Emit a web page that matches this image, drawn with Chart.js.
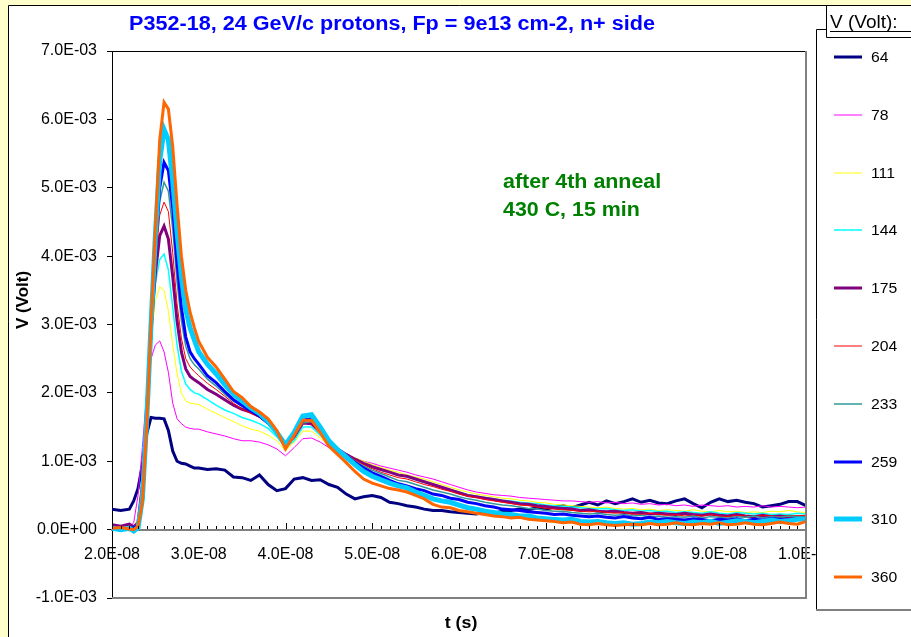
<!DOCTYPE html>
<html>
<head>
<meta charset="utf-8">
<script src="https://cdn.jsdelivr.net/npm/chart.js@4.4.1/dist/chart.umd.min.js"></script>
<style>
html,body{margin:0;padding:0;background:#ffffcc;overflow:hidden}
canvas{display:block}
</style>
</head>
<body>
<canvas id="c" width="911" height="637"></canvas>
<script>
// time in ns, signal in mV (converted to s / V when plotted)
const times = [20,21,22,22.5,23,23.5,24,24.5,25,25.5,26,26.5,27,27.5,28,28.5,29,29.5,30,
  31,32,33,34,35,36,37,38,39,40,41,42,43,44,45,46,47,48,49,50,
  51,52,53,54,55,56,57,58,59,60,61,62,63,64,65,66,67,68,69,70,
  71,72,73,74,75,76,77,78,79,80,81,82,83,84,85,86,87,88,89,90,
  91,92,93,94,95,96,97,98,99,100];

const biasVolts = ['64','78','111','144','175','204','233','259','310','360'];

const v64 = [0.30,0.28,0.30,0.42,0.60,0.95,1.40,1.64,1.63,1.63,1.62,1.45,1.15,1.00,0.97,0.96,0.93,0.90,0.90,
  0.88,0.89,0.87,0.77,0.76,0.72,0.80,0.66,0.57,0.60,0.74,0.76,0.72,0.73,0.66,0.62,0.52,0.45,0.48,0.50,
  0.47,0.40,0.38,0.35,0.33,0.30,0.28,0.28,0.26,0.25,0.24,0.23,0.26,0.24,0.27,0.28,0.30,0.29,0.32,0.30,
  0.33,0.35,0.32,0.36,0.40,0.36,0.42,0.38,0.41,0.45,0.40,0.43,0.39,0.38,0.42,0.45,0.38,0.32,0.40,0.45,
  0.41,0.43,0.40,0.38,0.33,0.35,0.37,0.41,0.41,0.35];
const v78 = [0.03,0.01,0.04,0.10,0.50,1.20,2.00,2.50,2.70,2.76,2.60,2.30,1.85,1.62,1.55,1.50,1.48,1.47,1.47,
  1.43,1.40,1.37,1.33,1.30,1.30,1.28,1.24,1.18,1.08,1.20,1.33,1.34,1.28,1.20,1.14,1.10,1.05,1.00,0.97,
  0.93,0.90,0.87,0.84,0.80,0.77,0.74,0.70,0.66,0.62,0.58,0.55,0.53,0.51,0.50,0.49,0.47,0.46,0.45,0.44,
  0.43,0.42,0.42,0.41,0.40,0.41,0.39,0.40,0.38,0.39,0.37,0.38,0.36,0.37,0.35,0.36,0.34,0.36,0.35,0.34,
  0.35,0.33,0.34,0.33,0.35,0.33,0.34,0.33,0.32,0.33];
const v111 = [0.04,0.02,0.04,0.05,0.15,0.80,1.85,2.80,3.35,3.55,3.50,3.20,2.70,2.28,2.00,1.88,1.85,1.84,1.83,
  1.76,1.70,1.64,1.58,1.52,1.47,1.44,1.38,1.30,1.15,1.28,1.44,1.44,1.34,1.24,1.16,1.10,1.05,1.00,0.95,
  0.91,0.87,0.84,0.80,0.77,0.74,0.70,0.66,0.62,0.58,0.55,0.52,0.50,0.48,0.46,0.45,0.43,0.42,0.40,0.39,
  0.37,0.36,0.35,0.34,0.33,0.32,0.33,0.31,0.30,0.31,0.29,0.30,0.28,0.29,0.28,0.27,0.29,0.27,0.26,0.28,
  0.26,0.27,0.25,0.26,0.25,0.27,0.26,0.28,0.26,0.25];
const v144 = [0.02,0.04,0.02,0.03,0.10,0.70,1.80,2.85,3.60,3.95,4.03,3.80,3.25,2.70,2.32,2.13,2.05,2.00,1.98,
  1.90,1.82,1.75,1.70,1.64,1.60,1.55,1.48,1.36,1.20,1.30,1.50,1.50,1.38,1.26,1.16,1.10,1.03,0.97,0.92,
  0.87,0.84,0.80,0.77,0.73,0.69,0.66,0.62,0.58,0.55,0.51,0.49,0.47,0.45,0.43,0.42,0.40,0.39,0.38,0.36,
  0.35,0.34,0.33,0.32,0.31,0.30,0.31,0.29,0.28,0.29,0.27,0.28,0.26,0.27,0.25,0.26,0.25,0.24,0.26,0.24,
  0.23,0.25,0.24,0.23,0.24,0.22,0.23,0.22,0.24,0.23];
const v175 = [0.07,0.05,0.08,0.04,0.10,0.65,1.75,2.90,3.75,4.30,4.44,4.25,3.70,3.05,2.60,2.35,2.24,2.19,2.15,
  2.05,1.98,1.90,1.82,1.76,1.72,1.66,1.56,1.42,1.22,1.36,1.56,1.55,1.43,1.28,1.18,1.10,1.03,0.97,0.92,
  0.88,0.84,0.80,0.78,0.74,0.70,0.66,0.62,0.58,0.54,0.50,0.48,0.46,0.44,0.42,0.40,0.38,0.37,0.35,0.34,
  0.32,0.31,0.30,0.28,0.29,0.27,0.26,0.27,0.25,0.24,0.25,0.23,0.24,0.23,0.22,0.24,0.22,0.21,0.23,0.21,
  0.20,0.22,0.20,0.19,0.21,0.19,0.20,0.18,0.19,0.18];
const v204 = [0.03,0.01,0.03,0.02,0.08,0.60,1.70,2.90,3.90,4.60,4.79,4.65,4.05,3.30,2.80,2.50,2.38,2.31,2.25,
  2.14,2.05,1.95,1.85,1.76,1.70,1.64,1.55,1.42,1.20,1.35,1.56,1.57,1.45,1.29,1.18,1.10,1.02,0.95,0.89,
  0.84,0.80,0.76,0.74,0.70,0.66,0.63,0.59,0.56,0.52,0.49,0.47,0.44,0.42,0.40,0.38,0.36,0.35,0.33,0.31,
  0.30,0.29,0.28,0.27,0.26,0.27,0.25,0.24,0.25,0.23,0.22,0.24,0.22,0.21,0.22,0.20,0.21,0.20,0.22,0.20,
  0.19,0.21,0.20,0.19,0.21,0.20,0.19,0.21,0.20,0.21];
const v233 = [0.01,0.03,0.01,0.04,0.08,0.55,1.65,2.90,4.00,4.80,5.08,4.95,4.40,3.62,3.05,2.68,2.50,2.41,2.35,
  2.20,2.10,1.98,1.88,1.80,1.74,1.66,1.56,1.44,1.22,1.36,1.56,1.58,1.45,1.28,1.17,1.10,1.00,0.93,0.87,
  0.82,0.77,0.72,0.70,0.66,0.62,0.58,0.55,0.52,0.48,0.45,0.43,0.40,0.38,0.36,0.35,0.33,0.31,0.30,0.28,
  0.27,0.27,0.25,0.24,0.23,0.24,0.22,0.21,0.22,0.20,0.21,0.19,0.20,0.18,0.19,0.18,0.20,0.17,0.19,0.18,
  0.17,0.19,0.18,0.20,0.17,0.19,0.18,0.20,0.19,0.18];
const v259 = [0.00,0.02,0.00,0.03,0.06,0.50,1.60,2.90,4.10,5.00,5.37,5.25,4.70,3.90,3.25,2.82,2.60,2.50,2.42,
  2.25,2.15,2.02,1.90,1.82,1.74,1.66,1.56,1.42,1.22,1.38,1.60,1.62,1.46,1.28,1.16,1.08,0.98,0.90,0.83,
  0.78,0.72,0.67,0.64,0.60,0.57,0.52,0.50,0.46,0.44,0.40,0.38,0.35,0.33,0.30,0.29,0.28,0.26,0.25,0.24,
  0.22,0.23,0.21,0.20,0.19,0.20,0.18,0.17,0.19,0.17,0.16,0.18,0.15,0.16,0.15,0.14,0.16,0.15,0.13,0.15,
  0.14,0.16,0.13,0.15,0.14,0.16,0.15,0.14,0.16,0.15];
const v310 = [0.02,0.00,0.02,-0.02,0.03,0.45,1.60,3.00,4.30,5.40,5.85,5.70,5.10,4.35,3.70,3.22,2.95,2.77,2.60,
  2.42,2.28,2.12,1.98,1.88,1.78,1.70,1.58,1.42,1.24,1.42,1.66,1.68,1.50,1.30,1.17,1.06,0.95,0.85,0.78,
  0.73,0.68,0.64,0.61,0.55,0.50,0.45,0.42,0.40,0.36,0.32,0.30,0.27,0.25,0.23,0.22,0.20,0.20,0.17,0.16,
  0.15,0.14,0.15,0.12,0.11,0.12,0.10,0.09,0.10,0.08,0.09,0.11,0.10,0.12,0.10,0.09,0.11,0.10,0.12,0.09,
  0.11,0.13,0.12,0.10,0.12,0.14,0.12,0.13,0.15,0.16];
const v360 = [0.02,0.03,0.01,0.00,0.05,0.40,1.50,3.00,4.40,5.70,6.25,6.15,5.60,4.75,4.00,3.50,3.18,2.95,2.75,
  2.52,2.38,2.20,2.02,1.93,1.80,1.72,1.62,1.45,1.18,1.38,1.60,1.60,1.42,1.22,1.10,0.98,0.85,0.74,0.68,
  0.64,0.60,0.58,0.55,0.50,0.45,0.37,0.33,0.32,0.28,0.26,0.24,0.22,0.20,0.19,0.17,0.18,0.15,0.14,0.13,
  0.12,0.10,0.11,0.08,0.07,0.09,0.07,0.06,0.07,0.08,0.07,0.09,0.07,0.08,0.10,0.08,0.07,0.09,0.08,0.10,
  0.07,0.08,0.10,0.08,0.07,0.09,0.11,0.09,0.08,0.12];

const series = [v64, v78, v111, v144, v175, v204, v233, v259, v310, v360];
const colors = ['#000080','#ff00ff','#ffff00','#00ffff','#800080','#ff0000','#339999','#0000ff','#00ccff','#ff6600'];
const widths = [3, 1, 1, 1.5, 3, 1, 1.5, 3, 5, 3];

const FONT = "'Liberation Sans', Arial, sans-serif";

function fmtE(v){
  if (Math.abs(v) < 1e-15) return '0.0E+00';
  let e = Math.floor(Math.log10(Math.abs(v)));
  let m = v / Math.pow(10, e);
  if (Math.abs(m) >= 9.95) { m /= 10; e++; }
  return m.toFixed(1) + 'E' + (e < 0 ? '-' : '+') + String(Math.abs(e)).padStart(2, '0');
}

function txt(ctx, s, x, y, font, color, align, sx){
  ctx.save();
  ctx.translate(x, y);
  ctx.scale(sx || 1, 1);
  ctx.font = font; ctx.fillStyle = color;
  ctx.textAlign = align || 'left'; ctx.textBaseline = 'alphabetic';
  ctx.fillText(s, 0, 0);
  ctx.restore();
}

const datasets = series.map((vals, i) => ({
  label: biasVolts[i],
  data: vals.map((v, k) => ({ x: times[k] * 1e-9, y: v * 1e-3 })),
  borderColor: colors[i],
  backgroundColor: colors[i],
  borderWidth: widths[i],
  pointRadius: 0,
  tension: 0,
  fill: false,
  order: series.length - i
}));

const decor = {
  id: 'decor',
  beforeDraw(chart){
    const ctx = chart.ctx;
    ctx.save();
    ctx.fillStyle = '#fff';
    ctx.fillRect(8, 5, 903, 632);
    ctx.strokeStyle = '#000'; ctx.lineWidth = 1;
    ctx.beginPath(); ctx.moveTo(8.5, 637); ctx.lineTo(8.5, 5.5); ctx.lineTo(911, 5.5); ctx.stroke();
    ctx.restore();
  },
  afterDatasetsDraw(chart){
    const ctx = chart.ctx, a = chart.chartArea;
    const xs = chart.scales.x, ys = chart.scales.y;
    ctx.save();
    // x axis tick marks (pointing up), minor every 1 ns
    const y0 = Math.round(ys.getPixelForValue(0)) - 1;
    ctx.strokeStyle = '#000'; ctx.lineWidth = 1;
    ctx.beginPath();
    for (let k = 20; k <= 100; k++) {
      const x = Math.round(xs.getPixelForValue(k * 1e-9)) + 0.5;
      const len = k % 10 === 0 ? 6 : 3;
      ctx.moveTo(x, y0); ctx.lineTo(x, y0 - len);
    }
    ctx.stroke();
    // plot area frame
    ctx.strokeStyle = '#000'; ctx.lineWidth = 1;
    ctx.beginPath(); ctx.moveTo(a.left, a.top + 0.5); ctx.lineTo(a.right, a.top + 0.5); ctx.stroke();
    ctx.strokeStyle = '#808080'; ctx.lineWidth = 2;
    ctx.beginPath(); ctx.moveTo(a.right, a.top); ctx.lineTo(a.right, a.bottom); ctx.lineTo(a.left, a.bottom); ctx.stroke();
    ctx.restore();
  },
  afterDraw(chart){
    const ctx = chart.ctx;
    ctx.save();
    txt(ctx, 'P352-18, 24 GeV/c protons, Fp = 9e13 cm-2, n+ side', 392, 30, 'bold 20px ' + FONT, '#0000ff', 'center', 1.08);
    txt(ctx, 'after 4th anneal', 503, 188, 'bold 20px ' + FONT, '#008000', 'left', 1.07);
    txt(ctx, '430 C, 15 min', 503, 216, 'bold 20px ' + FONT, '#008000', 'left', 1.07);
    txt(ctx, 't (s)', 461, 628, 'bold 17px ' + FONT, '#000', 'center', 1.05);
    ctx.save();
    ctx.translate(28, 300); ctx.rotate(-Math.PI / 2);
    txt(ctx, 'V (Volt)', 0, 0, 'bold 17px ' + FONT, '#000', 'center', 1.0);
    ctx.restore();

    // legend box
    ctx.fillStyle = '#fff';
    ctx.fillRect(816, 29, 95, 581);
    ctx.strokeStyle = '#000'; ctx.lineWidth = 1;
    ctx.beginPath(); ctx.moveTo(911, 29.5); ctx.lineTo(816.5, 29.5); ctx.lineTo(816.5, 610); ctx.stroke();
    ctx.strokeStyle = '#808080'; ctx.lineWidth = 2;
    ctx.beginPath(); ctx.moveTo(816, 610); ctx.lineTo(911, 610); ctx.stroke();
    // legend title box
    ctx.fillStyle = '#fff';
    ctx.fillRect(826, 6, 85, 31);
    ctx.strokeStyle = '#000'; ctx.lineWidth = 1;
    ctx.beginPath(); ctx.moveTo(826.5, 5); ctx.lineTo(826.5, 37.5); ctx.lineTo(911, 37.5); ctx.stroke();
    txt(ctx, 'V (Volt):', 830, 28, '19px ' + FONT, '#000', 'left', 1.0);
    ctx.beginPath(); ctx.moveTo(830, 31.5); ctx.lineTo(911, 31.5); ctx.stroke();

    chart.data.datasets.forEach((ds, i) => {
      const cy = Math.round(57 + i * 57.8);
      ctx.strokeStyle = ds.borderColor; ctx.lineWidth = ds.borderWidth;
      ctx.beginPath(); ctx.moveTo(834, cy); ctx.lineTo(862, cy); ctx.stroke();
      txt(ctx, ds.label, 871, cy + 5, '15px ' + FONT, '#000', 'left', 1.05);
    });
    ctx.restore();
  }
};

new Chart(document.getElementById('c'), {
  type: 'line',
  data: { datasets },
  options: {
    responsive: false,
    animation: false,
    layout: { padding: { left: 0, top: 51, right: 105, bottom: 39 } },
    plugins: { legend: { display: false }, title: { display: false }, tooltip: { enabled: false } },
    scales: {
      x: {
        type: 'linear', axis: 'x', min: 2e-8, max: 1e-7,
        position: { y: 0 },
        grid: { display: true, drawOnChartArea: false, drawTicks: false },
        border: { display: true, color: '#808080', width: 2 },
        ticks: { stepSize: 1e-8, padding: 15, color: '#000', maxRotation: 0, autoSkip: false,
          font: { family: FONT, size: 16 }, callback: v => fmtE(v) }
      },
      y: {
        type: 'linear', min: -1e-3, max: 7e-3,
        afterFit: s => { s.width = 112; },
        grid: { drawOnChartArea: false, drawTicks: true, tickLength: 5, color: '#000' },
        border: { display: true, color: '#000', width: 1 },
        ticks: { stepSize: 1e-3, padding: 10, color: '#000',
          font: { family: FONT, size: 16 }, callback: v => fmtE(v) }
      }
    }
  },
  plugins: [decor]
});
</script>
</body>
</html>
